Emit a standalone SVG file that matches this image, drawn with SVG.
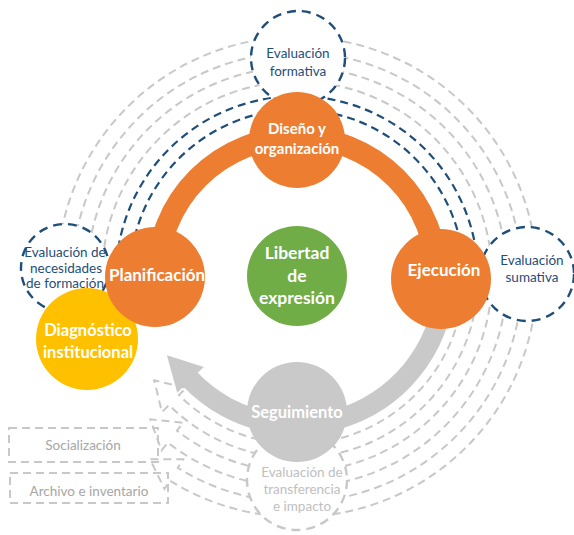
<svg xmlns="http://www.w3.org/2000/svg" width="574" height="535" viewBox="0 0 574 535">
<style>
.bg{fill:#FFFFFF}
.gd{fill:none;stroke:#C8C8C8;stroke-width:2;stroke-dasharray:8 5}
.bd{fill:none;stroke:#1F4E79;stroke-width:2.2;stroke-dasharray:8 5}
.ec{fill:#FFFFFF;stroke:#1F4E79;stroke-width:2.4;stroke-dasharray:9 6}
.eg{fill:#FFFFFF;stroke:#C8C8C8;stroke-width:2.4;stroke-dasharray:9 6}
.t{font-family:Lato,"Liberation Sans",sans-serif;text-anchor:middle}
.w{fill:#FFFFFF;font-weight:bold}
.b{fill:#1F4E79;font-size:13.5px}
.g{fill:#A6A6A6;font-size:13.5px}
.lg{fill:#C0C0C0;font-size:13.5px}
</style>
<rect class="bg" x="0" y="0" width="574" height="535"/>
<g id="connectors">
  <path class="gd" d="M 57.9 256.1 A 240 240 0 0 1 536.1 256.1"/>
  <path class="gd" d="M 72.9 257.4 A 225 225 0 0 1 521.1 257.4"/>
  <path class="gd" d="M 87.8 258.7 A 210 210 0 0 1 506.2 258.7"/>
  <path class="gd" d="M 102.7 260 A 195 195 0 0 1 491.3 260"/>
  <path class="bd" d="M 116.7 261.2 A 181 181 0 0 1 477.3 261.2"/>
  <path class="bd" d="M 130.6 262.4 A 167 167 0 0 1 463.4 262.4"/>
  <path class="gd" transform="rotate(45 297 277)" d="M 424.9 169.7 A 167 167 0 0 1 297 444 L 297 434 L 269 451 L 297 468 L 297 458 A 181 181 0 0 0 435.7 160.7"/>
  <path class="gd" transform="rotate(38 297 277)" d="M 460.5 170.8 A 195 195 0 0 1 297 472 L 297 462 L 269 479.5 L 297 497 L 297 487 A 210 210 0 0 0 473.1 162.6"/>
  <path class="gd" transform="rotate(32 297 277)" d="M 497.5 174.8 A 225 225 0 0 1 297 502 L 297 492 L 269 509.5 L 297 527 L 297 517 A 240 240 0 0 0 510.8 168"/>
</g>
<g id="socializacion">
  <rect class="gd" x="9" y="428" width="149" height="34"/>
  <text class="t g" x="83" y="450">Socialización</text>
</g>
<g id="archivo">
  <rect class="gd" x="10" y="473" width="158" height="30"/>
  <text class="t g" x="89" y="496">Archivo e inventario</text>
</g>
<g id="eval-formativa">
  <circle class="ec" cx="298" cy="58" r="47"/>
  <text class="t b" x="298" y="58">Evaluación</text>
  <text class="t b" x="298" y="76">formativa</text>
</g>
<g id="eval-necesidades">
  <circle class="ec" cx="65" cy="268" r="44"/>
  <text class="t b" x="65" y="256.5" font-size="13">Evaluación de</text>
  <text class="t b" x="66" y="272.5" font-size="13">necesidades</text>
  <text class="t b" x="65" y="288" font-size="13">de formación</text>
</g>
<g id="eval-sumativa">
  <circle class="ec" cx="527" cy="274" r="47"/>
  <text class="t b" x="532" y="265">Evaluación</text>
  <text class="t b" x="532" y="282">sumativa</text>
</g>
<g id="eval-transferencia">
  <circle class="eg" cx="297" cy="480" r="50"/>
  <text class="t lg" x="302" y="477">Evaluación de</text>
  <text class="t lg" x="302" y="494">transferencia</text>
  <text class="t lg" x="302" y="511">e impacto</text>
</g>
<g id="ring">
  <path fill="#C9C9C9" transform="rotate(46 297 277)" d="M 383.8 169.8 A 138 138 0 0 1 297 415 L 297 406.5 L 263 425 L 297 443.5 L 297 435 A 158 158 0 0 0 396.4 154.2 Z"/>
  <path fill="none" stroke="#ED7D31" stroke-width="22" d="M 157 277 A 140 140 0 0 1 437 277"/>
</g>
<g id="diagnostico">
  <circle cx="87" cy="339" r="51" fill="#FFC000"/>
  <text class="t w" font-size="16.5" x="88" y="336">Diagnóstico</text>
  <text class="t w" font-size="16.5" x="88" y="358">institucional</text>
</g>
<g id="planificacion">
  <circle cx="155" cy="277" r="50" fill="#ED7D31"/>
  <text class="t w" font-size="17" x="157" y="281">Planificación</text>
</g>
<g id="diseno">
  <circle cx="297" cy="140" r="48" fill="#ED7D31"/>
  <text class="t w" font-size="15" x="297" y="134">Diseño y</text>
  <text class="t w" font-size="15" x="297" y="154">organización</text>
</g>
<g id="ejecucion">
  <circle cx="441" cy="279" r="50" fill="#ED7D31"/>
  <text class="t w" font-size="17" x="444" y="276">Ejecución</text>
</g>
<g id="seguimiento">
  <circle cx="297" cy="412" r="50" fill="#C9C9C9"/>
  <text class="t w" font-size="16.5" x="297" y="418">Seguimiento</text>
</g>
<g id="libertad">
  <circle cx="297" cy="276" r="50" fill="#70AD47"/>
  <text class="t w" font-size="17.5" x="297" y="259">Libertad</text>
  <text class="t w" font-size="17.5" x="297" y="282">de</text>
  <text class="t w" font-size="17.5" x="297" y="304">expresión</text>
</g>
</svg>
